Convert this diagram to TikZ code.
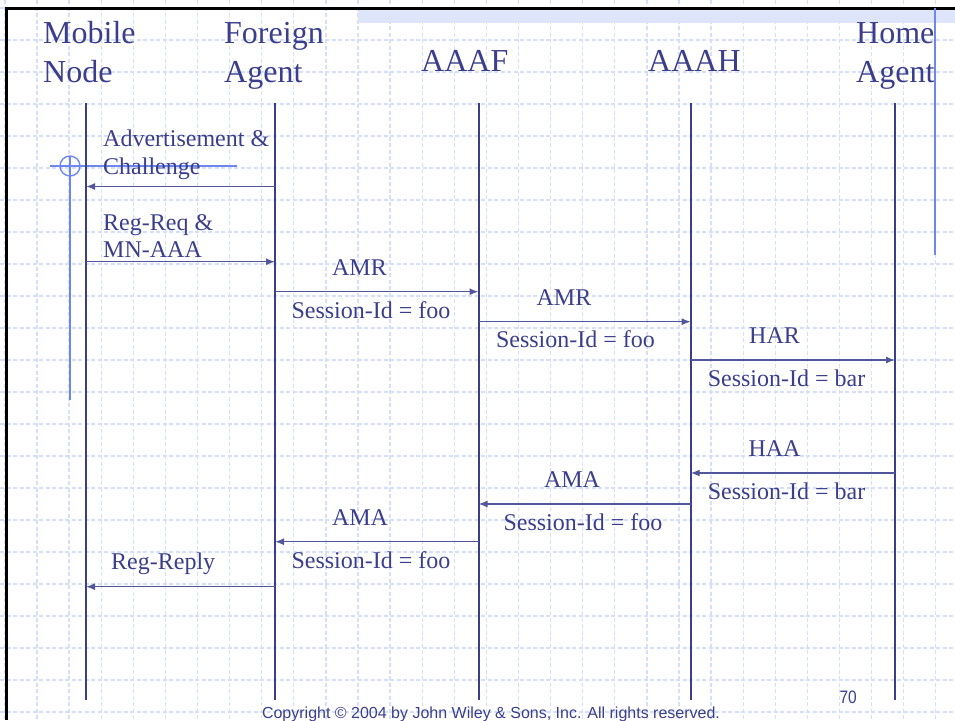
\documentclass[tikz,border=0pt]{standalone}
\usepackage{fontspec}
\setmainfont{Liberation Serif}
\newfontfamily\pagefont[FakeStretch=0.86]{Liberation Sans}
\newfontfamily\copyfont{Liberation Sans}
\usetikzlibrary{arrows.meta}
\definecolor{ink}{RGB}{59,62,140}
\definecolor{msgline}{RGB}{82,86,156}
\definecolor{gridblue}{RGB}{214,223,250}
\definecolor{markblue}{RGB}{110,135,240}
\definecolor{bandblue}{RGB}{222,229,251}
\tikzset{
  gridline/.style={gridblue, line width=1.3pt, dash pattern=on 4pt off 2.5pt},
  lifeline/.style={ink, line width=2pt},
  msg/.style={msgline, line width=1.4pt, -{Latex[length=9pt,width=7pt]}},
  head/.style={ink, inner sep=0pt, font=\fontsize{32}{38}\selectfont},
  lbl/.style={ink, inner sep=0pt, font=\fontsize{24}{28}\selectfont},
  decoline/.style={markblue, line width=1.4pt},
}
\begin{document}
\begin{tikzpicture}[x=1pt,y=-1pt]
\useasboundingbox (0,0) rectangle (955,720);
\fill[white] (0,0) rectangle (955,720);
% background grid
\foreach \i in {0,...,29} \draw[gridline] ({4.9+32.1*\i},0) -- ++(0,720);
\foreach \j in {0,...,22} \draw[gridline] (0,{8+32*\j}) -- ++(955,0);
% top band and frame
\fill[bandblue] (358,10) rectangle (955,23);
\draw[black, line width=3pt] (6,720) -- (6,8) -- (955,8);
% decorative marks
\draw[decoline] (70,156) -- (70,400);
\draw[decoline] (50,166) -- (237,166);
\draw[decoline] (70,166) circle[radius=10];
\draw[decoline] (935,8) -- (935,255);
% headers
\node[head, anchor=base west] (hmn1) at (43,43) {Mobile};
\node[head, anchor=base west] (hmn2) at (43,82) {Node};
\node[head, anchor=base west] (hfa1) at (224,43) {Foreign};
\node[head, anchor=base west] (hfa2) at (224,82) {Agent};
\node[head, anchor=base west] (haf) at (421,71) {AAAF};
\node[head, anchor=base west] (hah) at (648,71) {AAAH};
\node[head, anchor=base west] (hha1) at (856,43) {Home};
\node[head, anchor=base west] (hha2) at (856,82) {Agent};
% lifelines
\coordinate (mnT) at (86,103);  \coordinate (mnB) at (86,700);
\coordinate (faT) at (275,103); \coordinate (faB) at (275,700);
\coordinate (afT) at (478.5,103); \coordinate (afB) at (478.5,700);
\coordinate (ahT) at (690.7,103); \coordinate (ahB) at (690.7,700);
\coordinate (haT) at (895,103); \coordinate (haB) at (895,700);
\foreach \l in {mn,fa,af,ah,ha} \draw[lifeline] (\l T) -- (\l B);
% message endpoints
\coordinate (m1a) at (275,186.5); \coordinate (m1b) at (86,186.5);
\coordinate (m2a) at (86,261.7);  \coordinate (m2b) at (275,261.7);
\coordinate (m3a) at (275,291.7); \coordinate (m3b) at (478.5,291.7);
\coordinate (m4a) at (478.5,321.7); \coordinate (m4b) at (690.7,321.7);
\coordinate (m5a) at (690.7,360); \coordinate (m5b) at (895,360);
\coordinate (m6a) at (895,473); \coordinate (m6b) at (690.7,473);
\coordinate (m7a) at (690.7,504); \coordinate (m7b) at (478.5,504);
\coordinate (m8a) at (478.5,541.7); \coordinate (m8b) at (275,541.7);
\coordinate (m9a) at (275,586.7); \coordinate (m9b) at (86,586.7);
\foreach \m in {1,...,9} \draw[msg] (m\m a) -- (m\m b);
% message labels
\node[lbl, anchor=base west] (t1a) at (103,146) {Advertisement \&};
\node[lbl, anchor=base west] (t1b) at (103,174) {Challenge};
\node[lbl, anchor=base west] (t2a) at (103,230) {Reg-Req \&};
\node[lbl, anchor=base west] (t2b) at (103,257) {MN-AAA};
\node[lbl, anchor=base] (t3a) at (359.5,275) {AMR};
\node[lbl, anchor=base] (t3b) at (371,318) {Session-Id = foo};
\node[lbl, anchor=base] (t4a) at (564,305) {AMR};
\node[lbl, anchor=base] (t4b) at (575.5,347) {Session-Id = foo};
\node[lbl, anchor=base] (t5a) at (774.5,343) {HAR};
\node[lbl, anchor=base] (t5b) at (786.5,386) {Session-Id = bar};
\node[lbl, anchor=base] (t6a) at (774.5,456) {HAA};
\node[lbl, anchor=base] (t6b) at (786.5,499) {Session-Id = bar};
\node[lbl, anchor=base] (t7a) at (572,487) {AMA};
\node[lbl, anchor=base] (t7b) at (583,530) {Session-Id = foo};
\node[lbl, anchor=base] (t8a) at (360,525) {AMA};
\node[lbl, anchor=base] (t8b) at (371,568) {Session-Id = foo};
\node[lbl, anchor=base west] (t9) at (111,569) {Reg-Reply};
% footer
\node[ink, inner sep=0pt, anchor=base east, font=\pagefont\fontsize{18}{20}\selectfont] (pg) at (857,703) {70};
\node[ink, inner sep=0pt, anchor=base, font=\copyfont\fontsize{16}{18}\selectfont] (copy) at (491,718) {Copyright © 2004 by John Wiley \& Sons, Inc. All rights reserved.};
\end{tikzpicture}
\end{document}
